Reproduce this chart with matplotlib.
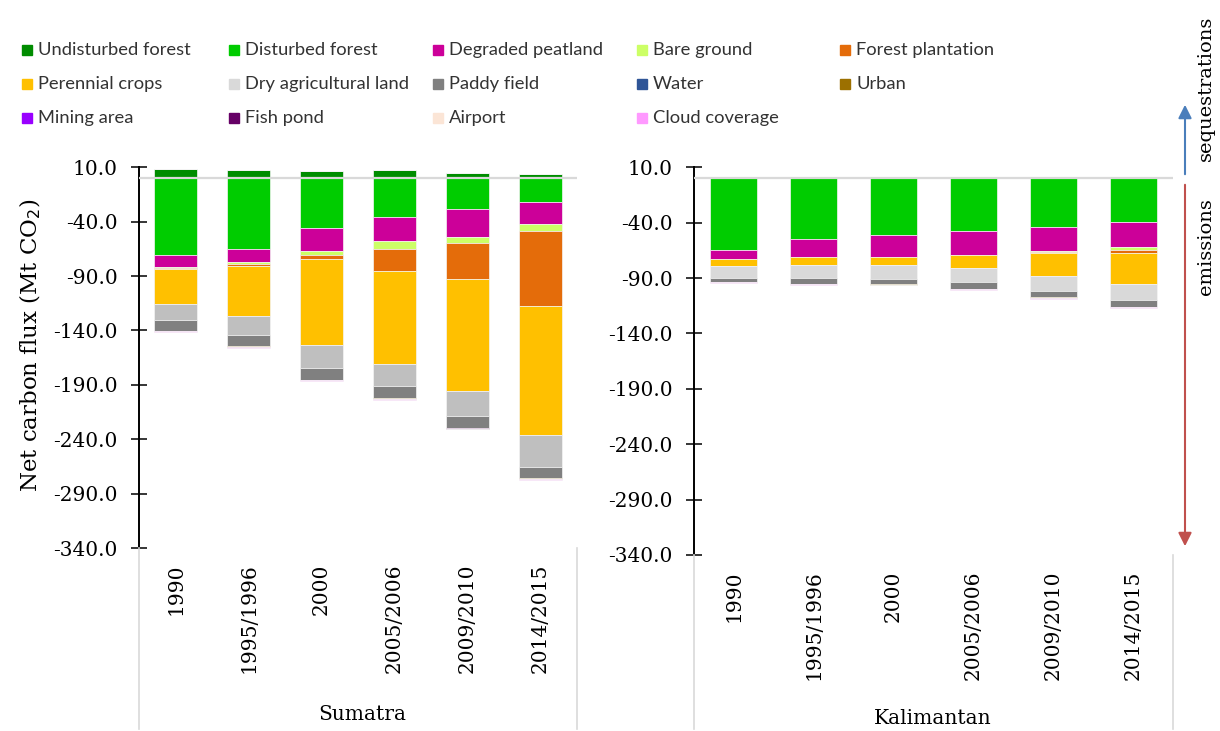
import numpy as np
import matplotlib
matplotlib.use('Agg')
import matplotlib.pyplot as plt
from matplotlib.patches import Rectangle, FancyArrowPatch
from matplotlib.lines import Line2D
from matplotlib.ticker import FormatStrFormatter

plt.rcParams['axes.unicode_minus'] = False

W, H = 1220, 731

periods = ['1990', '1995/1996', '2000', '2005/2006', '2009/2010', '2014/2015']

classes = ['Undisturbed forest', 'Disturbed forest', 'Degraded peatland', 'Bare ground',
           'Forest plantation', 'Perennial crops', 'Dry agricultural land', 'Paddy field',
           'Water', 'Urban', 'Mining area', 'Fish pond', 'Airport', 'Cloud coverage']

colors = ['#008C00', '#00CC00', '#CC0099', '#CCFF66', '#E46C0A', '#FFC000', '#D9D9D9',
          '#808080', '#2F5597', '#9C7000', '#9900FF', '#660066', '#FBE5D6', '#FF99FF']

# Net carbon flux per land-cover class (Mt CO2), positive = sequestration
# Sumatra
sum_undisturbed = [8.5, 7.8, 6.6, 7.3, 4.8, 3.9]
sum_disturbed = [-70.9, -65.4, -45.5, -36.0, -28.3, -21.6]
sum_peatland = [-11.1, -12.0, -21.5, -21.8, -25.8, -20.8]
sum_bare = [-0.7, -1.2, -3.4, -7.1, -5.2, -5.9]
sum_plantation = [-0.6, -2.2, -4.0, -20.5, -33.4, -69.3]
sum_perennial = [-32.2, -46.0, -79.0, -85.5, -103.1, -118.9]
sum_dry_agri = [-15.0, -17.5, -21.0, -20.3, -23.2, -29.2]
sum_paddy = [-9.8, -10.4, -10.7, -11.3, -10.8, -10.1]
sum_water = [0.0, 0.0, 0.0, 0.0, 0.0, 0.0]
sum_urban = [-0.2, -0.2, -0.3, -0.3, -0.3, -0.4]
sum_mining = [0.0, 0.0, 0.0, 0.0, 0.0, 0.0]
sum_fish_pond = [0.0, 0.0, 0.0, -0.1, -0.1, -0.1]
sum_airport = [0.0, 0.0, 0.0, 0.0, 0.0, 0.0]
sum_cloud = [-0.8, -0.8, -0.8, -0.8, -0.8, -0.8]

# Kalimantan
kal_undisturbed = [1.5, 1.0, 0.8, 0.8, 0.5, 0.4]
kal_disturbed = [-64.3, -54.9, -50.7, -47.7, -44.0, -39.5]
kal_peatland = [-8.4, -15.9, -20.1, -21.6, -21.7, -22.6]
kal_bare = [0.0, 0.0, 0.0, 0.0, -1.0, -3.0]
kal_plantation = [0.0, 0.0, 0.0, 0.0, -0.3, -2.5]
kal_perennial = [-6.0, -7.3, -7.3, -11.5, -21.2, -28.2]
kal_dry_agri = [-10.8, -11.7, -12.3, -12.9, -13.5, -13.6]
kal_paddy = [-3.6, -5.4, -5.4, -6.0, -5.7, -6.5]
kal_water = [0.0, 0.0, 0.0, 0.0, 0.0, 0.0]
kal_urban = [-0.1, -0.1, -0.1, -0.2, -0.2, -0.3]
kal_mining = [0.0, 0.0, 0.0, -0.1, -0.1, -0.2]
kal_fish_pond = [0.0, 0.0, 0.0, 0.0, 0.0, 0.0]
kal_airport = [0.0, 0.0, 0.0, 0.0, 0.0, 0.0]
kal_cloud = [-0.9, -0.8, -0.8, -0.8, -0.8, -0.8]

sumatra = [sum_undisturbed, sum_disturbed, sum_peatland, sum_bare, sum_plantation,
           sum_perennial, sum_dry_agri, sum_paddy, sum_water, sum_urban, sum_mining,
           sum_fish_pond, sum_airport, sum_cloud]
kalimantan = [kal_undisturbed, kal_disturbed, kal_peatland, kal_bare, kal_plantation,
              kal_perennial, kal_dry_agri, kal_paddy, kal_water, kal_urban, kal_mining,
              kal_fish_pond, kal_airport, kal_cloud]

SERIF = 'DejaVu Serif'


def fx(x):
    return x / W


def fy(y):
    return 1 - y / H


def draw_island(ax, series, cols):
    x = np.arange(len(periods))
    pos_base = np.zeros(len(x))
    neg_base = np.zeros(len(x))
    for vals, c in zip(series, cols):
        vals = np.asarray(vals, dtype=float)
        base = np.where(vals >= 0, pos_base, neg_base)
        ax.bar(x, vals, 0.59, bottom=base, color=c, edgecolor='#F4F4F4',
               linewidth=0.5, zorder=2)
        pos_base += np.clip(vals, 0, None)
        neg_base += np.clip(vals, None, 0)

    ax.axhline(0, color='#D9D9D9', lw=1.6, zorder=3)
    ax.set_xlim(-0.5, len(x) - 0.5)
    ax.set_ylim(-340, 10)
    ax.set_yticks(np.arange(10, -341, -50))
    ax.yaxis.set_major_formatter(FormatStrFormatter('%.1f'))
    ax.set_xticks(x)
    ax.set_xticklabels(periods, rotation=90, family=SERIF, fontsize=14.5)
    for lbl in ax.get_yticklabels():
        lbl.set_family(SERIF)
        lbl.set_fontsize(14.5)
    ax.tick_params(axis='x', length=0, pad=11)
    ax.tick_params(axis='y', direction='inout', length=11, width=1.1, pad=10)
    for s in ['top', 'right', 'bottom']:
        ax.spines[s].set_visible(False)
    ax.spines['left'].set_linewidth(1.4)
    ax.patch.set_alpha(0)


fig = plt.figure(figsize=(12.2, 7.31), dpi=100)

ax1 = fig.add_axes([fx(139.3), fy(548), fx(577 - 139.3), (548 - 167.3) / H])
ax2 = fig.add_axes([fx(694), fy(555), fx(1173 - 694), (555 - 167.3) / H])

sum_colors = list(colors)
sum_colors[6] = '#BFBFBF'
draw_island(ax1, sumatra, sum_colors)
draw_island(ax2, kalimantan, colors)

# group separators under the category axes
for x0, y0 in [(139.3, 548), (577, 548), (694, 555), (1173, 555)]:
    fig.add_artist(Line2D([fx(x0), fx(x0)], [fy(y0), fy(729)], color='#D9D9D9', lw=1.2))

fig.text(fx(362), fy(714), 'Sumatra', family=SERIF, fontsize=14.5, ha='center', va='center')
fig.text(fx(933), fy(719), 'Kalimantan', family=SERIF, fontsize=14.5, ha='center', va='center')
fig.text(fx(30), fy(345), 'Net carbon flux (Mt CO$_2$)', family=SERIF, fontsize=16.5,
         rotation=90, ha='center', va='center')

# direction arrows on the right
fig.add_artist(FancyArrowPatch((fx(1185), fy(177)), (fx(1185), fy(102)),
                               transform=fig.transFigure, arrowstyle='-|>',
                               mutation_scale=20, color='#4A7EBB', lw=1.5))
fig.add_artist(FancyArrowPatch((fx(1185), fy(182)), (fx(1185), fy(549)),
                               transform=fig.transFigure, arrowstyle='-|>',
                               mutation_scale=20, color='#C0504D', lw=1.5))
fig.text(fx(1206), fy(88), 'sequestrations', family=SERIF, fontsize=14,
         rotation=90, ha='center', va='center')
fig.text(fx(1206), fy(247), 'emissions', family=SERIF, fontsize=14,
         rotation=90, ha='center', va='center')

# legend laid out row by row, five entries per row
col_x = [22, 229, 433, 637, 840]
row_y = [50, 84, 118]
for i, (name, c) in enumerate(zip(classes, colors)):
    r, k = divmod(i, 5)
    x0, y0 = col_x[k], row_y[r]
    fig.add_artist(Rectangle((fx(x0), fy(y0 + 5)), fx(10), 10 / H, color=c,
                             transform=fig.transFigure))
    fig.text(fx(x0 + 16), fy(y0), name, family='Lato', fontsize=13.2,
             ha='left', va='center', color='#333333')

fig.savefig('out.png', dpi=100)
